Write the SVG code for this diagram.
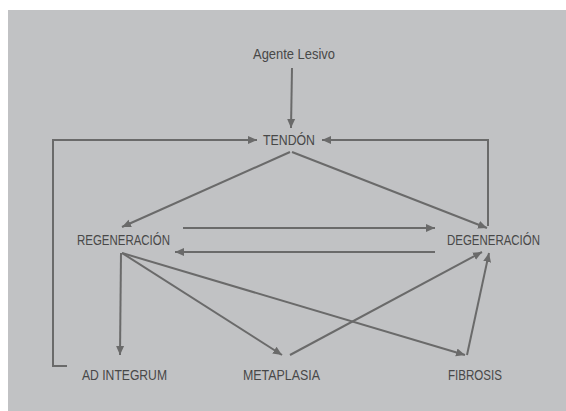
<svg xmlns="http://www.w3.org/2000/svg" width="566" height="411" viewBox="0 0 566 411">
<style>
.bg{fill:#c1c2c4}
.t{font-family:"Liberation Sans",Arial,sans-serif;font-size:15px;fill:#484848}
.c path{fill:none;stroke:#6a6a6a;stroke-width:2;marker-end:url(#ah)}
</style>
<defs>
<marker id="ah" markerUnits="userSpaceOnUse" markerWidth="10" markerHeight="10" viewBox="0 0 10 10" refX="9" refY="5" orient="auto">
<path d="M0,1 L9,5 L0,9 Z" fill="#6a6a6a"/>
</marker>
</defs>
<rect width="566" height="411" fill="#ffffff"/>
<rect class="bg" x="8" y="10" width="558" height="401"/>
<g class="c" id="connectors">
<path d="M292,68 L291,128"/>
<path d="M67,366 L53,366 L53,140 L257,140"/>
<path d="M488,226 L488,140 L322,140"/>
<path d="M290,152 L122,227"/>
<path d="M292,152 L487,228"/>
<path d="M183,228 L435,228"/>
<path d="M435,252 L175,252"/>
<path d="M121,253 L120,355"/>
<path d="M122,253 L282,355"/>
<path d="M122,253 L465,355"/>
<path d="M290,355 L482,252"/>
<path d="M467,355 L489,253"/>
</g>
<g id="agente"><text class="t" x="253" y="59" textLength="82" lengthAdjust="spacingAndGlyphs">Agente Lesivo</text></g>
<g id="tendon"><text class="t" x="263" y="145" textLength="52" lengthAdjust="spacingAndGlyphs">TENDÓN</text></g>
<g id="regeneracion"><text class="t" x="77" y="245" textLength="93" lengthAdjust="spacingAndGlyphs">REGENERACIÓN</text></g>
<g id="degeneracion"><text class="t" x="447" y="245" textLength="93" lengthAdjust="spacingAndGlyphs">DEGENERACIÓN</text></g>
<g id="adintegrum"><text class="t" x="82" y="380" textLength="85" lengthAdjust="spacingAndGlyphs">AD INTEGRUM</text></g>
<g id="metaplasia"><text class="t" x="243" y="380" textLength="77" lengthAdjust="spacingAndGlyphs">METAPLASIA</text></g>
<g id="fibrosis"><text class="t" x="448" y="380" textLength="54" lengthAdjust="spacingAndGlyphs">FIBROSIS</text></g>
</svg>
